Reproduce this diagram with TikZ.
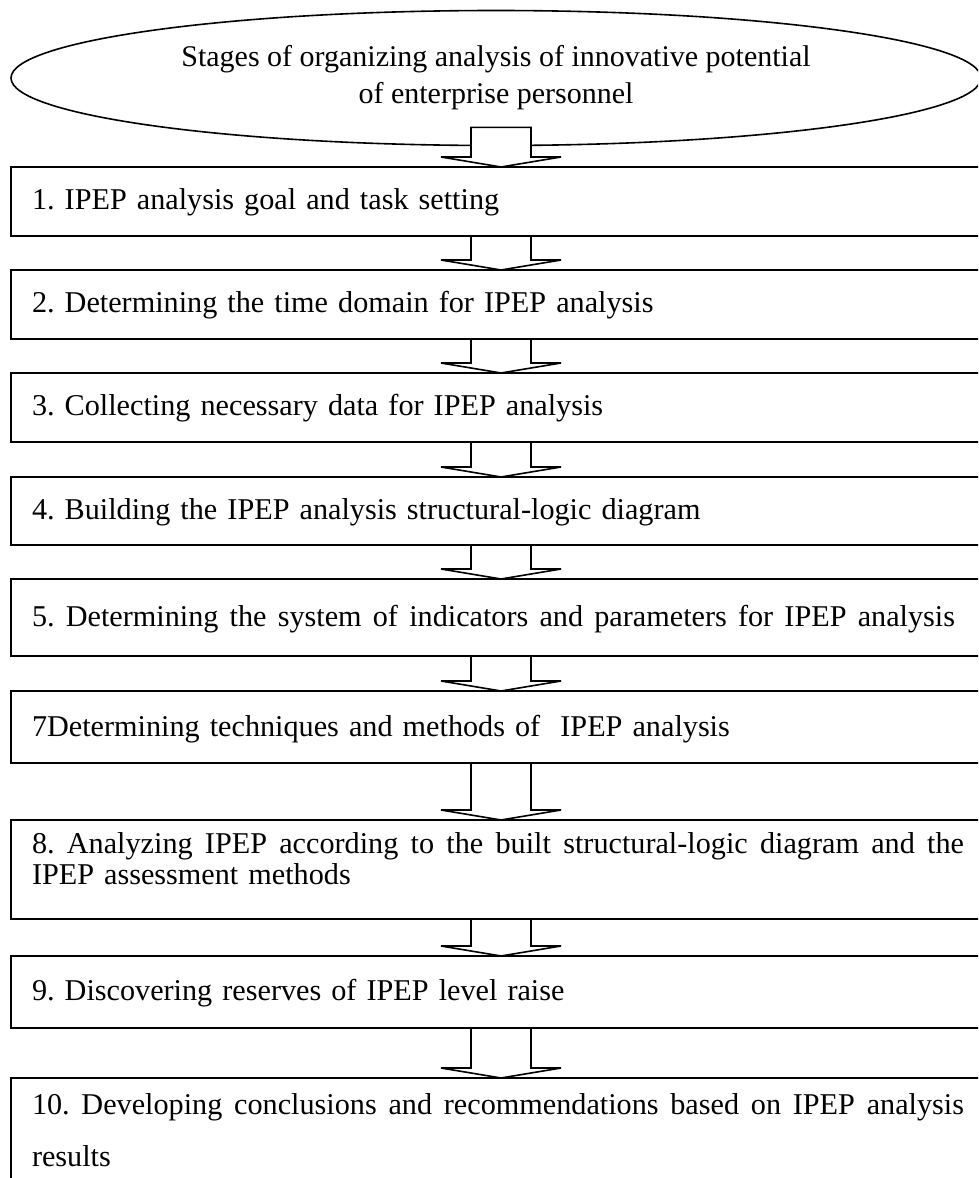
\documentclass[tikz,border=0pt]{standalone}
\usepackage{fontspec}
\setmainfont{Liberation Serif}
\usetikzlibrary{shapes,arrows,positioning,calc}

\tikzset{
	stagebox/.style={draw, line width=1.6pt, rectangle, anchor=north, outer sep=0pt,
		minimum width=980pt, text width=938pt, inner xsep=21pt, inner ysep=0pt, align=left,
		text height=42pt, font=\frenchspacing\fontsize{30.2}{31}\selectfont},
	stagearrow/.style={draw, fill=white, line width=1.6pt, line join=miter}
}

% block arrow from one node to the next
\newcommand{\blockdown}[2]{%
	\draw[stagearrow] let \p1=(#1), \p2=(#2) in
		(\x2-30pt,\y1) -- (\x2-30pt,\y2+10pt) -- (\x2-60pt,\y2+10pt) -- (\x2,\y2)
		-- (\x2+60pt,\y2+10pt) -- (\x2+30pt,\y2+10pt) -- (\x2+30pt,\y1) -- cycle;}
% justified line
\newcommand{\fullline}[2]{\makebox[#1][s]{\spaceskip=0.25em plus 3em #2}}

\begin{document}
\begin{tikzpicture}[x=1pt,y=-1pt]
	
		\clip (0,0) rectangle (978,1178);
		
		% Title
		\node (title) [ellipse, draw, line width=1.6pt, minimum width=970pt, minimum height=135pt,
			align=center, font=\fontsize{30}{37}\selectfont] at (496,78)
			{Stages of organizing analysis of innovative potential\\of enterprise personnel};
		\coordinate (tstart) at ($(title.south)+(0,-19)$);
		
		% Stages
		\node (b1) [stagebox, text depth=27pt] at (501,167) {1. IPEP analysis goal and task setting};
		\node (b2) [stagebox, text depth=27pt, below=34pt of b1] {2. Determining the time domain for IPEP analysis};
		\node (b3) [stagebox, text depth=27pt, below=34pt of b2] {3. Collecting necessary data for IPEP analysis};
		\node (b4) [stagebox, text depth=26pt, below=35pt of b3] {4. Building the IPEP analysis structural-logic diagram};
		\node (b5) [stagebox, text height=47pt, text depth=30pt, below=34pt of b4]
			{\fullline{923pt}{5. Determining the system of indicators and parameters for IPEP analysis}};
		\node (b7) [stagebox, text height=45pt, text depth=27pt, below=35pt of b5] {7Determining techniques and methods of\ \ IPEP analysis};
		\node (b8) [stagebox, text height=33pt, text depth=66pt, below=57pt of b7]
			{\fullline{932pt}{8. Analyzing IPEP according to the built structural-logic diagram and the}\\IPEP assessment methods};
		\node (b9) [stagebox, text height=44pt, text depth=28pt, below=37pt of b8] {9. Discovering reserves of IPEP level raise};
		\node (b10) [stagebox, text height=36pt, text depth=120pt, below=50pt of b9]
			{\fullline{932pt}{10. Developing conclusions and recommendations based on IPEP analysis}\\[21pt]results};
		
		% Arrows
		\blockdown{tstart}{b1.north}
		\foreach \a/\b in {b1/b2, b2/b3, b3/b4, b4/b5, b5/b7, b7/b8, b8/b9, b9/b10}
			\blockdown{\a.south}{\b.north};
	\end{tikzpicture}
\end{document}
